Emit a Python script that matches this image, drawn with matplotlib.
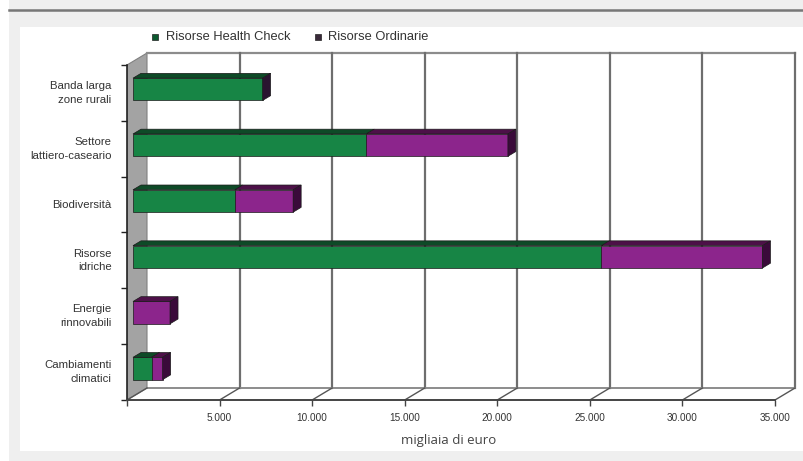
import matplotlib
matplotlib.use("Agg")
import matplotlib.pyplot as plt
from matplotlib.patches import Polygon, Rectangle

categories = ["Cambiamenti\nclimatici", "Energie\nrinnovabili", "Risorse\nidriche",
              "Biodiversità", "Settore\nlattiero-caseario", "Banda larga\nzone rurali"]
health_check = [1000, 0, 25300, 5500, 12600, 7000]
ordinarie = [600, 2000, 8700, 3150, 7650, 0]
xticks = [0, 5000, 10000, 15000, 20000, 25000, 30000, 35000]
xticklabels = ["", "5.000", "10.000", "15.000", "20.000", "25.000", "30.000", "35.000"]
series_names = ["Risorse Health Check", "Risorse Ordinarie"]

W, H = 804, 461
fig = plt.figure(figsize=(W / 100, H / 100), dpi=100)
fig.patch.set_facecolor("white")

# page background (pixel coordinates)
bg = fig.add_axes([0, 0, 1, 1])
bg.set_xlim(0, W)
bg.set_ylim(H, 0)
bg.axis("off")
bg.add_patch(Rectangle((9, 0), W - 9, H, facecolor="#efefef", edgecolor="none"))
bg.add_patch(Rectangle((20, 27), W - 20, 424, facecolor="white", edgecolor="none"))
bg.plot([9, W], [10.5, 10.5], color="#777777", lw=1.8)

# plot area: front plane x=0 at px 127, 35000 at px 775; categories 55.83 px tall
px_unit = 648 / 35000
band = 335 / 6
x0, x1 = 127, 800
ytop, ybot = 45, 400
ax = fig.add_axes([x0 / W, (H - ybot) / H, (x1 - x0) / W, (ybot - ytop) / H])
ax.set_xlim(0, (x1 - x0) / px_unit)
ax.set_ylim(0, (ybot - ytop) / band)
ax.set_facecolor("none")

DX = 20 / px_unit
DY = 12 / band
n = len(categories)
xmax = 35000

# left wall
ax.add_patch(Polygon([(0, 0), (DX, DY), (DX, n + DY), (0, n)], closed=True,
                     facecolor="#a3a3a3", edgecolor="#808080", lw=0.8, zorder=1))
# back wall grid
ax.plot([DX, xmax + DX], [n + DY, n + DY], color="#8c8c8c", lw=1.6, zorder=1)
for v in xticks[1:]:
    ax.plot([v + DX, v + DX], [DY, n + DY], color="#6e6e6e", lw=1.6, zorder=1)
# floor
ax.plot([DX, xmax + DX], [DY, DY], color="#8c8c8c", lw=1.4, zorder=1)
for v in xticks:
    ax.plot([v, v + DX], [0, DY], color="#555555", lw=1.0, zorder=1)

# bars
f1, f2 = 0.3, 0.7
h = 0.4
cols = {"g": ("#178545", "#0e4a27", "#2a1430"), "p": ("#8c258c", "#4d1048", "#3a0a3a")}
for i in range(n):
    segs = []
    left = 0
    for val, key in ((health_check[i], "g"), (ordinarie[i], "p")):
        if val > 0:
            segs.append((left, val, key))
            left += val
    yc = i + 0.5
    for j, (l, val, key) in enumerate(segs):
        face, top, side = cols[key]
        ax.barh(yc + f1 * DY, val, left=l + f1 * DX, height=h, color=face,
                edgecolor="#1a1a1a", lw=0.5, zorder=3)
        r = l + val
        yt = yc + h / 2
        ax.add_patch(Polygon([(l + f1 * DX, yt + f1 * DY), (r + f1 * DX, yt + f1 * DY),
                              (r + f2 * DX, yt + f2 * DY), (l + f2 * DX, yt + f2 * DY)],
                             closed=True, facecolor=top, edgecolor="#1a1a1a", lw=0.5, zorder=3))
        if j == len(segs) - 1:
            yb = yc - h / 2
            ax.add_patch(Polygon([(r + f1 * DX, yb + f1 * DY), (r + f2 * DX, yb + f2 * DY),
                                  (r + f2 * DX, yt + f2 * DY), (r + f1 * DX, yt + f1 * DY)],
                                 closed=True, facecolor=side, edgecolor="#1a1a1a", lw=0.5, zorder=3))

# axes
for s in ("top", "right"):
    ax.spines[s].set_visible(False)
ax.spines["bottom"].set_bounds(0, xmax)
ax.spines["left"].set_bounds(0, n)
ax.spines["bottom"].set_color("#444444")
ax.spines["bottom"].set_linewidth(1.4)
ax.spines["left"].set_color("#222222")
ax.spines["left"].set_linewidth(1.2)
ax.set_xticks(xticks)
ax.set_xticklabels(xticklabels, fontsize=7.2, family="Liberation Sans", color="#333333")
ax.tick_params(axis="x", length=4, width=1, direction="out", pad=5, color="#444444")
ax.set_yticks(range(n + 1))
ax.set_yticklabels([])
ax.tick_params(axis="y", which="major", length=4, width=1, direction="out", color="#222222")
ax.set_yticks([i + 0.5 for i in range(n)], categories, minor=True)
ax.tick_params(axis="y", which="minor", length=0, pad=11)
for t in ax.get_yticklabels(minor=True):
    t.set_fontsize(8.2)
    t.set_family("Liberation Sans")
    t.set_color("#333333")
    t.set_verticalalignment("center")
    t.set_multialignment("right")
    t.set_linespacing(1.45)

# axis title
bg.text(449, 440, "migliaia di euro", ha="center", va="center", fontsize=9.5,
        family="Open Sans", color="#444444")

# legend
for sx, tx, name, c in ((152, 166, series_names[0], "#0d5a30"), (315, 328, series_names[1], "#3a2a3a")):
    bg.add_patch(Rectangle((sx, 34), 6.5, 6.5, facecolor=c, edgecolor="#222222", lw=0.5))
    bg.text(tx, 37.5, name, ha="left", va="center", fontsize=9.3,
            family="Liberation Sans", color="#333333")

fig.savefig("out.png", dpi=100, facecolor=fig.get_facecolor())
